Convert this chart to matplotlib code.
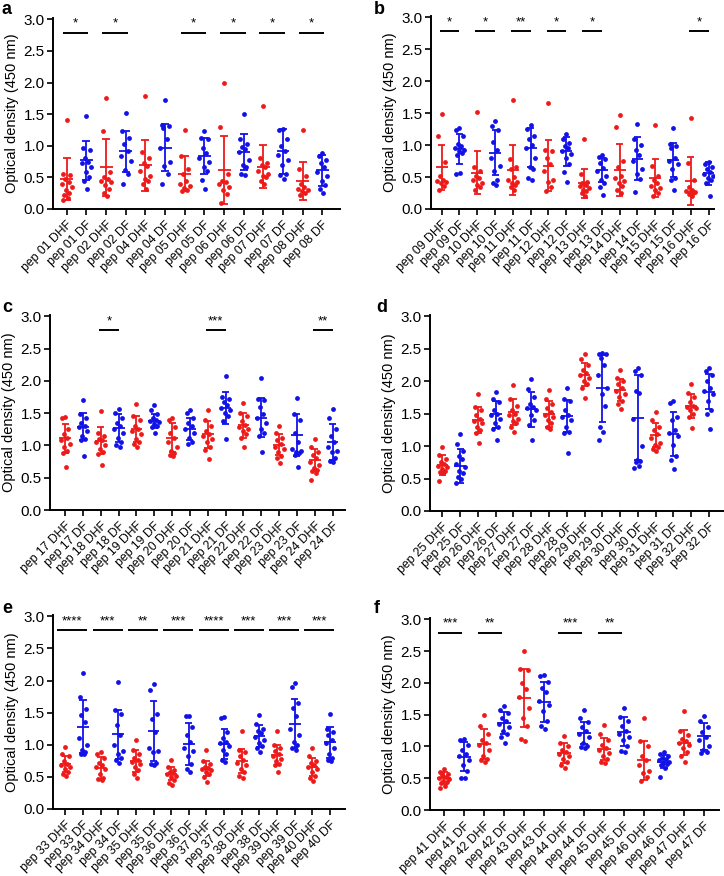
import matplotlib.pyplot as plt
import numpy as np

plt.rcParams['font.family'] = ['Liberation Sans', 'DejaVu Sans']

RED = '#ee1a1a'
BLUE = '#1212e8'

# ---- panel a ----
a_peps = ['01', '02', '04', '05', '06', '07', '08']
a_vals = [
    [1.40, 0.56, 0.53, 0.47, 0.43, 0.39, 0.35, 0.30, 0.25, 0.22, 0.17, 0.14],
    [1.47, 0.96, 0.93, 0.80, 0.75, 0.72, 0.66, 0.58, 0.50, 0.44, 0.31],
    [1.76, 1.24, 0.58, 0.50, 0.47, 0.45, 0.43, 0.38, 0.32, 0.25, 0.20],
    [1.52, 1.23, 1.12, 1.02, 0.92, 0.84, 0.76, 0.62, 0.55, 0.39],
    [1.79, 0.90, 0.80, 0.72, 0.68, 0.60, 0.52, 0.48, 0.44, 0.40, 0.32],
    [1.73, 1.33, 1.32, 1.28, 1.10, 0.96, 0.75, 0.68, 0.55, 0.39],
    [1.25, 0.84, 0.63, 0.56, 0.44, 0.40, 0.36, 0.33, 0.30, 0.28],
    [1.23, 1.12, 1.10, 0.96, 0.88, 0.80, 0.75, 0.66, 0.60, 0.46, 0.31],
    [2.00, 1.29, 0.55, 0.45, 0.42, 0.40, 0.35, 0.30, 0.24, 0.10],
    [1.50, 1.10, 1.02, 0.98, 0.95, 0.90, 0.78, 0.70, 0.66, 0.55, 0.53],
    [1.63, 0.80, 0.72, 0.70, 0.66, 0.60, 0.55, 0.52, 0.50, 0.45, 0.40],
    [1.27, 1.25, 1.10, 1.00, 0.92, 0.85, 0.78, 0.70, 0.55, 0.53, 0.48],
    [1.25, 0.64, 0.52, 0.40, 0.35, 0.32, 0.30, 0.28, 0.25, 0.22],
    [0.88, 0.84, 0.78, 0.72, 0.66, 0.58, 0.52, 0.45, 0.38, 0.32, 0.26],
]
a_mean = [0.48, 0.77, 0.66, 0.91, 0.69, 0.97, 0.56, 0.84, 0.62, 0.90, 0.67, 0.91, 0.44, 0.61]
a_sd = [0.33, 0.31, 0.45, 0.33, 0.40, 0.37, 0.28, 0.28, 0.54, 0.28, 0.34, 0.35, 0.30, 0.24]
a_sig_pairs = [0, 1, 3, 4, 5, 6]
a_sig_text = ['*', '*', '*', '*', '*', '*']

# ---- panel b ----
b_peps = ['09', '10', '11', '12', '13', '14', '15', '16']
b_vals = [
    [1.48, 1.14, 0.74, 0.52, 0.46, 0.44, 0.42, 0.40, 0.36, 0.30],
    [1.27, 1.24, 1.15, 1.02, 0.98, 0.95, 0.92, 0.90, 0.88, 0.85, 0.56, 0.55],
    [1.52, 0.65, 0.60, 0.52, 0.48, 0.45, 0.40, 0.38, 0.35, 0.30],
    [1.38, 1.30, 1.23, 1.05, 0.92, 0.80, 0.68, 0.60, 0.45, 0.40, 0.37],
    [1.70, 0.78, 0.66, 0.62, 0.50, 0.45, 0.42, 0.40, 0.38, 0.35, 0.30],
    [1.31, 1.25, 1.15, 1.10, 1.00, 0.95, 0.80, 0.65, 0.63, 0.48, 0.46],
    [1.66, 0.92, 0.90, 0.80, 0.70, 0.60, 0.45, 0.42, 0.35, 0.28],
    [1.18, 1.10, 1.03, 0.98, 0.95, 0.90, 0.86, 0.80, 0.70, 0.58, 0.43],
    [1.09, 0.55, 0.42, 0.40, 0.38, 0.36, 0.33, 0.30, 0.28, 0.25, 0.20],
    [0.85, 0.82, 0.78, 0.72, 0.64, 0.60, 0.52, 0.45, 0.40, 0.34, 0.22],
    [1.47, 1.28, 0.75, 0.65, 0.52, 0.48, 0.44, 0.40, 0.36, 0.30, 0.25],
    [1.33, 1.10, 1.00, 0.92, 0.85, 0.75, 0.62, 0.55, 0.47, 0.26],
    [1.32, 0.68, 0.52, 0.45, 0.40, 0.36, 0.33, 0.30, 0.25, 0.20],
    [1.26, 1.02, 0.98, 0.95, 0.80, 0.75, 0.70, 0.62, 0.48, 0.45, 0.29],
    [1.42, 0.72, 0.45, 0.35, 0.30, 0.28, 0.27, 0.26, 0.25, 0.24, 0.20],
    [0.73, 0.70, 0.66, 0.62, 0.58, 0.55, 0.52, 0.48, 0.45, 0.40, 0.20],
]
b_mean = [0.65, 0.94, 0.57, 0.88, 0.61, 0.96, 0.68, 0.90, 0.40, 0.61, 0.61, 0.79, 0.48, 0.77, 0.44, 0.56]
b_sd = [0.35, 0.23, 0.33, 0.35, 0.39, 0.30, 0.40, 0.22, 0.23, 0.19, 0.40, 0.33, 0.30, 0.27, 0.37, 0.18]
b_sig_pairs = [0, 1, 2, 3, 4, 7]
b_sig_text = ['*', '*', '**', '*', '*', '*']

# ---- panel c ----
c_peps = ['17', '18', '19', '20', '21', '22', '23', '24']
c_vals = [
    [1.44, 1.43, 1.25, 1.18, 1.12, 1.08, 1.02, 0.98, 0.92, 0.88, 0.66],
    [1.70, 1.48, 1.42, 1.35, 1.30, 1.28, 1.22, 1.15, 1.10, 1.08, 0.84],
    [1.53, 1.20, 1.15, 1.10, 1.08, 1.05, 1.00, 0.95, 0.90, 0.86, 0.69],
    [1.56, 1.50, 1.42, 1.35, 1.30, 1.25, 1.20, 1.12, 1.05, 1.00, 0.98],
    [1.64, 1.45, 1.40, 1.30, 1.26, 1.22, 1.18, 1.10, 1.05, 1.02, 0.98],
    [1.62, 1.55, 1.48, 1.42, 1.40, 1.38, 1.36, 1.33, 1.30, 1.28, 1.20],
    [1.43, 1.40, 1.28, 1.20, 1.12, 1.05, 0.98, 0.92, 0.88, 0.85, 0.83],
    [1.55, 1.50, 1.42, 1.35, 1.30, 1.25, 1.20, 1.12, 1.05, 1.02],
    [1.55, 1.40, 1.30, 1.22, 1.18, 1.15, 1.10, 1.05, 0.98, 0.93, 0.79],
    [2.08, 1.75, 1.72, 1.68, 1.62, 1.58, 1.55, 1.50, 1.45, 1.38, 1.10],
    [1.65, 1.50, 1.45, 1.38, 1.32, 1.28, 1.25, 1.22, 1.18, 1.12, 0.98],
    [2.05, 1.72, 1.70, 1.60, 1.48, 1.42, 1.35, 1.25, 1.20, 1.15, 0.90],
    [1.30, 1.20, 1.12, 1.08, 1.02, 0.98, 0.95, 0.90, 0.84, 0.80, 0.73],
    [1.73, 1.48, 1.40, 1.20, 1.05, 0.95, 0.92, 0.90, 0.88, 0.85, 0.66],
    [1.10, 0.98, 0.90, 0.85, 0.80, 0.75, 0.70, 0.65, 0.62, 0.60, 0.58, 0.47],
    [1.56, 1.42, 1.25, 1.15, 1.05, 0.98, 0.92, 0.90, 0.80, 0.76, 0.74],
]
c_mean = [1.11, 1.29, 1.07, 1.27, 1.25, 1.38, 1.12, 1.26, 1.17, 1.58, 1.31, 1.43, 1.01, 1.16, 0.77, 1.05]
c_sd = [0.22, 0.21, 0.21, 0.21, 0.20, 0.11, 0.22, 0.17, 0.21, 0.25, 0.19, 0.30, 0.16, 0.32, 0.17, 0.28]
c_sig_pairs = [1, 4, 7]
c_sig_text = ['*', '***', '**']

# ---- panel d ----
d_peps = ['25', '26', '27', '28', '29', '30', '31', '32']
d_vals = [
    [0.99, 0.86, 0.80, 0.75, 0.72, 0.70, 0.68, 0.65, 0.62, 0.60, 0.58, 0.46],
    [1.18, 1.04, 0.93, 0.85, 0.80, 0.73, 0.68, 0.62, 0.58, 0.52, 0.50, 0.43],
    [1.80, 1.60, 1.55, 1.48, 1.42, 1.38, 1.35, 1.30, 1.25, 1.20, 1.05],
    [1.84, 1.72, 1.68, 1.55, 1.50, 1.48, 1.42, 1.35, 1.30, 1.27, 1.09],
    [1.94, 1.73, 1.62, 1.55, 1.50, 1.48, 1.42, 1.38, 1.35, 1.30, 1.22],
    [2.03, 1.88, 1.75, 1.65, 1.60, 1.58, 1.55, 1.48, 1.40, 1.32, 1.09],
    [1.87, 1.72, 1.65, 1.58, 1.52, 1.48, 1.45, 1.40, 1.35, 1.30, 1.27],
    [1.90, 1.73, 1.70, 1.55, 1.48, 1.45, 1.40, 1.30, 1.22, 1.20, 0.90],
    [2.42, 2.34, 2.25, 2.18, 2.12, 2.10, 2.05, 2.00, 1.95, 1.90, 1.74],
    [2.43, 2.42, 2.42, 2.35, 2.25, 2.10, 1.90, 1.80, 1.62, 1.30, 1.22, 1.09],
    [2.17, 2.05, 2.00, 1.95, 1.90, 1.85, 1.80, 1.75, 1.70, 1.65, 1.57],
    [2.20, 2.15, 2.10, 1.85, 1.82, 1.42, 1.00, 0.78, 0.77, 0.75, 0.70, 0.66],
    [1.52, 1.40, 1.30, 1.25, 1.18, 1.12, 1.05, 1.02, 0.98, 0.95, 0.93],
    [1.70, 1.66, 1.45, 1.40, 1.25, 1.20, 1.15, 1.02, 0.85, 0.78, 0.65],
    [1.95, 1.82, 1.75, 1.68, 1.62, 1.60, 1.58, 1.55, 1.50, 1.45, 1.28],
    [2.20, 2.15, 2.10, 2.00, 1.90, 1.85, 1.80, 1.70, 1.55, 1.50, 1.26],
]
d_mean = [0.71, 0.69, 1.40, 1.49, 1.52, 1.57, 1.49, 1.46, 2.10, 1.89, 1.87, 1.44, 1.17, 1.18, 1.62, 1.84]
d_sd = [0.15, 0.26, 0.20, 0.21, 0.20, 0.27, 0.20, 0.25, 0.18, 0.52, 0.17, 0.66, 0.19, 0.34, 0.18, 0.27]
d_sig_pairs = []
d_sig_text = []

# ---- panel e ----
e_peps = ['33', '34', '35', '36', '37', '38', '39', '40']
e_vals = [
    [0.96, 0.85, 0.82, 0.75, 0.70, 0.68, 0.65, 0.62, 0.58, 0.55, 0.52],
    [2.11, 1.75, 1.56, 1.46, 1.35, 1.10, 1.00, 0.92, 0.88, 0.86, 0.85],
    [0.88, 0.85, 0.80, 0.72, 0.68, 0.65, 0.62, 0.55, 0.48, 0.46, 0.45],
    [1.97, 1.54, 1.48, 1.30, 1.15, 1.00, 0.90, 0.85, 0.80, 0.76, 0.72],
    [1.08, 0.92, 0.85, 0.80, 0.76, 0.73, 0.70, 0.65, 0.60, 0.55, 0.48],
    [1.94, 1.86, 1.48, 1.40, 1.20, 0.95, 0.90, 0.88, 0.72, 0.70, 0.68],
    [0.76, 0.65, 0.60, 0.58, 0.56, 0.55, 0.52, 0.50, 0.45, 0.40, 0.37],
    [1.45, 1.44, 1.28, 1.15, 1.05, 0.95, 0.90, 0.82, 0.70, 0.62, 0.58],
    [0.92, 0.75, 0.70, 0.66, 0.64, 0.62, 0.60, 0.58, 0.55, 0.50, 0.42],
    [1.43, 1.42, 1.20, 1.10, 1.05, 1.02, 0.98, 0.92, 0.85, 0.76, 0.73],
    [1.21, 0.92, 0.88, 0.82, 0.76, 0.72, 0.68, 0.62, 0.58, 0.52, 0.49],
    [1.46, 1.32, 1.25, 1.22, 1.18, 1.12, 1.08, 1.02, 0.98, 0.95, 0.88],
    [1.22, 1.00, 0.95, 0.90, 0.85, 0.82, 0.78, 0.75, 0.70, 0.68, 0.58],
    [1.96, 1.90, 1.65, 1.58, 1.45, 1.25, 1.15, 1.05, 1.00, 0.95, 0.92],
    [0.95, 0.82, 0.75, 0.72, 0.68, 0.65, 0.62, 0.58, 0.52, 0.48, 0.44],
    [1.48, 1.25, 1.20, 1.15, 1.08, 1.02, 0.95, 0.85, 0.80, 0.76, 0.74],
]
e_mean = [0.70, 1.28, 0.64, 1.16, 0.75, 1.21, 0.55, 1.01, 0.63, 1.01, 0.75, 1.13, 0.84, 1.33, 0.66, 1.04]
e_sd = [0.13, 0.41, 0.17, 0.38, 0.17, 0.47, 0.10, 0.33, 0.12, 0.23, 0.19, 0.17, 0.15, 0.38, 0.14, 0.24]
e_sig_pairs = [0, 1, 2, 3, 4, 5, 6, 7]
e_sig_text = ['****', '***', '**', '***', '****', '***', '***', '***']

# ---- panel f ----
f_peps = ['41', '42', '43', '44', '45', '46', '47']
f_vals = [
    [0.65, 0.60, 0.57, 0.55, 0.52, 0.50, 0.48, 0.46, 0.44, 0.42, 0.38, 0.35],
    [1.12, 1.10, 1.02, 0.95, 0.88, 0.85, 0.78, 0.70, 0.62, 0.50, 0.50],
    [1.50, 1.32, 1.20, 1.10, 1.05, 1.02, 0.95, 0.85, 0.80, 0.78, 0.75],
    [1.63, 1.58, 1.52, 1.45, 1.40, 1.35, 1.30, 1.25, 1.20, 1.15, 1.06],
    [2.50, 2.22, 2.20, 2.00, 1.90, 1.78, 1.60, 1.45, 1.32, 1.12, 1.09],
    [2.12, 2.11, 2.02, 1.92, 1.85, 1.72, 1.65, 1.55, 1.40, 1.32, 1.27],
    [1.16, 1.05, 1.00, 0.95, 0.92, 0.88, 0.85, 0.80, 0.75, 0.70, 0.66],
    [1.58, 1.45, 1.38, 1.30, 1.25, 1.20, 1.15, 1.05, 1.00, 0.99, 0.98],
    [1.34, 1.20, 1.10, 1.02, 0.98, 0.95, 0.90, 0.85, 0.80, 0.76, 0.74],
    [1.61, 1.46, 1.40, 1.32, 1.25, 1.20, 1.15, 1.10, 1.00, 0.93, 0.92],
    [1.45, 1.08, 1.00, 0.85, 0.78, 0.70, 0.62, 0.58, 0.52, 0.45],
    [0.92, 0.88, 0.85, 0.82, 0.80, 0.78, 0.76, 0.74, 0.72, 0.70, 0.66, 0.52],
    [1.56, 1.25, 1.18, 1.12, 1.08, 1.05, 1.02, 0.98, 0.92, 0.85, 0.75],
    [1.48, 1.40, 1.30, 1.22, 1.15, 1.10, 1.00, 0.95, 0.92, 0.90],
]
f_mean = [0.50, 0.84, 1.04, 1.37, 1.76, 1.70, 0.90, 1.21, 0.96, 1.23, 0.78, 0.76, 1.06, 1.16]
f_sd = [0.09, 0.23, 0.23, 0.17, 0.45, 0.32, 0.16, 0.17, 0.18, 0.23, 0.31, 0.10, 0.20, 0.21]
f_sig_pairs = [0, 1, 3, 4]
f_sig_text = ['***', '**', '***', '**']

# fixed spread pattern for the dots
spread = [0.0, -0.18, 0.18, -0.09, 0.09, -0.25, 0.25, -0.04, 0.13, -0.13, 0.05, -0.21]

fig = plt.figure(figsize=(7.24, 8.76), dpi=100)
W, H = 724.0, 876.0


def make_ax(l, r, t, b):
    return fig.add_axes([l / W, 1 - b / H, (r - l) / W, (b - t) / H])


def draw(ax, peps, vals, means, sds, sig_pairs, sig_text, xlim, bar_ext):
    labels = []
    for p in peps:
        labels += ['pep %s DHF' % p, 'pep %s DF' % p]
    for i, v in enumerate(vals):
        col = RED if i % 2 == 0 else BLUE
        xs = [i + spread[k % len(spread)] for k in range(len(v))]
        ax.scatter(xs, v, s=12, color=col, linewidths=0, zorder=3)
        m, s = means[i], sds[i]
        ax.vlines(i, m - s, m + s, color=col, lw=1.3, zorder=4)
        ax.hlines([m - s, m + s], i - 0.2, i + 0.2, color=col, lw=1.3, zorder=4)
        ax.hlines(m, i - 0.33, i + 0.33, color=col, lw=1.3, zorder=4)
    for j, txt in zip(sig_pairs, sig_text):
        x0 = 2 * j + bar_ext[0]
        x1 = 2 * j + bar_ext[1]
        ax.plot([x0, x1], [2.78, 2.78], color='black', lw=1.4, solid_capstyle='butt')
        ax.text((x0 + x1) / 2, 2.88, txt, ha='center', va='baseline', fontsize=9.5)
    ax.set_xlim(*xlim)
    ax.set_ylim(0, 3.02)
    ax.set_yticks(np.arange(0, 3.01, 0.5))
    ax.set_yticklabels(['%.1f' % t for t in np.arange(0, 3.01, 0.5)], fontsize=11)
    ax.set_xticks(range(len(labels)))
    ax.set_xticklabels(labels, rotation=45, ha='right', rotation_mode='anchor', fontsize=8.8)
    for sp in ['top', 'right']:
        ax.spines[sp].set_visible(False)
    for sp in ['left', 'bottom']:
        ax.spines[sp].set_linewidth(1.4)
    ax.tick_params(width=1.2, length=4, pad=2)
    ax.tick_params(axis='x', pad=3)
    ax.set_ylabel('Optical density (450 nm)', fontsize=10.5, labelpad=3)


ax_a = make_ax(53, 340, 18, 209)
draw(ax_a, a_peps, a_vals, a_mean, a_sd, a_sig_pairs, a_sig_text, (-0.7, 13.9), (-0.2, 1.1))
ax_b = make_ax(431, 714, 16, 209)
draw(ax_b, b_peps, b_vals, b_mean, b_sd, b_sig_pairs, b_sig_text, (-0.6, 15.3), (-0.1, 1.0))
ax_c = make_ax(50, 345, 315, 510)
draw(ax_c, c_peps, c_vals, c_mean, c_sd, c_sig_pairs, c_sig_text, (-0.85, 15.7), (-0.1, 1.0))
ax_d = make_ax(430, 724, 315, 511)
draw(ax_d, d_peps, d_vals, d_mean, d_sd, d_sig_pairs, d_sig_text, (-0.7, 15.85), (-0.1, 1.0))
ax_e = make_ax(53, 345, 615, 809)
draw(ax_e, e_peps, e_vals, e_mean, e_sd, e_sig_pairs, e_sig_text, (-0.7, 15.85), (-0.45, 1.25))
ax_f = make_ax(430, 719, 618, 810)
draw(ax_f, f_peps, f_vals, f_mean, f_sd, f_sig_pairs, f_sig_text, (-0.7, 13.75), (-0.3, 0.9))

for lbl, x, y in [('a', 2, 1), ('b', 374, 1), ('c', 2, 299), ('d', 376, 299), ('e', 2, 600), ('f', 374, 600)]:
    fig.text(x / W, 1 - y / H, lbl, fontsize=13, fontweight='bold', va='top', ha='left')

fig.savefig('out.png', dpi=100)
